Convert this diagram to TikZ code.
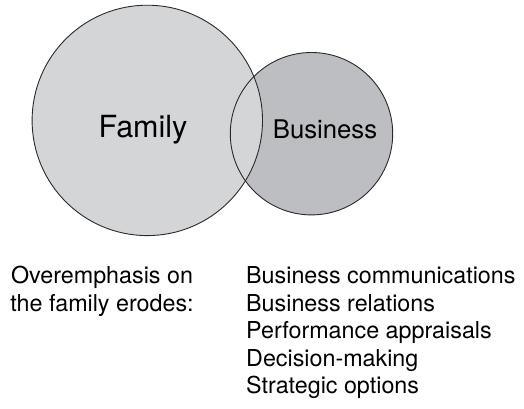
\documentclass[tikz,border=0pt]{standalone}
\usepackage{fontspec}
\setmainfont{TeX Gyre Heros}
\definecolor{famfill}{HTML}{D4D5D7}
\definecolor{busfill}{HTML}{BDBEC1}
\definecolor{edge}{HTML}{2A2A2A}
\begin{document}
\begin{tikzpicture}[x=1pt,y=-1pt,
  ring/.style={draw=edge,line width=0.9pt},
  lbl/.style={inner sep=0pt,anchor=base,text=black},
  listtxt/.style={lbl,font=\fontsize{23.3}{27.5}\selectfont},
  itemtxt/.style={listtxt,anchor=base west}]
\useasboundingbox (0,0) rectangle (524,409);
% fills
\fill[busfill] (311.5,133.7) circle[radius=81.2];
\fill[famfill] (147.3,120.4) circle[radius=115.2];
% outlines
\draw[ring] (311.5,133.7) circle[radius=81.2];
\draw[ring] (147.3,120.4) circle[radius=115.2];
% labels
\node[lbl,font=\fontsize{30.5}{36}\selectfont] (fam) at (143,137) {Family};
\node[lbl,font=\fontsize{25.7}{30}\selectfont] (bus) at (325,138.3) {Business};
% bottom texts
\node[listtxt] (l1) at (102,283.5) {Overemphasis on};
\node[listtxt] (l2) at (102,311) {the family erodes:};
\node[itemtxt] (r1) at (246,283.5) {Business communications};
\node[itemtxt] (r2) at (246,311) {Business relations};
\node[itemtxt] (r3) at (246,338.5) {Performance appraisals};
\node[itemtxt] (r4) at (246,366) {Decision-making};
\node[itemtxt] (r5) at (246,393.5) {Strategic options};
\end{tikzpicture}
\end{document}
